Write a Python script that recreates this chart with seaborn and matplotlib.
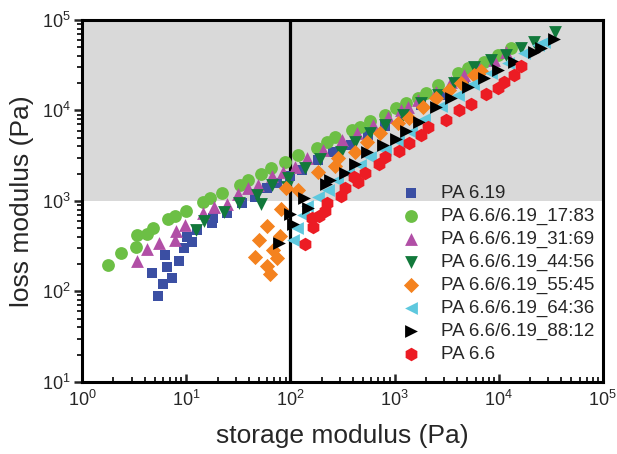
import matplotlib
matplotlib.use("Agg")
import matplotlib.pyplot as plt
import seaborn as sns
import numpy as np
import pandas as pd
from matplotlib.ticker import LogLocator, NullFormatter

# ---- data (storage modulus G', loss modulus G'' in Pa) ----
labels = ["PA 6.19", "PA 6.6/6.19_17:83", "PA 6.6/6.19_31:69", "PA 6.6/6.19_44:56",
          "PA 6.6/6.19_55:45", "PA 6.6/6.19_64:36", "PA 6.6/6.19_88:12", "PA 6.6"]

pa619_x = [5.38, 6.01, 4.71, 7.33, 6.57, 6.28, 8.57, 9.57, 10.2, 11.4, 12.8, 17.8, 18.2, 24.8,
           34.5, 46.1, 60.1, 75.0, 100, 130, 186, 259, 378, 562, 819, 1222, 1778, 2767, 4607]
pa619_y = [89.1, 121, 160, 141, 187, 253, 217, 302, 400, 352, 478, 571, 649, 736,
           950, 1107, 1392, 1581, 1888, 2201, 2837, 3474, 4158, 5358, 6742, 8923, 11500, 14830, 20140]

b1783_x = [1.77, 2.37, 3.30, 3.38, 4.22, 4.82, 6.71, 7.84, 10.0, 14.6, 17.0, 22.2, 33.0, 39.5,
           52.6, 65.7, 89.5, 119, 182, 227, 271, 395, 471, 588, 819, 1023, 1276, 1664, 1986,
           2588, 4033, 5035, 7174, 9776, 13040]
b1783_y = [196, 266, 310, 421, 432, 503, 632, 683, 776, 975, 1080, 1225, 1502, 1706,
           1987, 2316, 2699, 3224, 3852, 4487, 5095, 6090, 6573, 7660, 8923, 10660, 12110, 13750, 15610,
           19130, 25960, 29490, 34360, 41040, 49050]

b3169_x = [3.38, 4.22, 5.50, 7.84, 8.01, 9.78, 14.6, 18.6, 24.8, 31.6, 39.5, 49.2, 67.1, 85.6,
           112, 146, 208, 316, 441, 628, 857, 1142, 1334, 1664, 2479, 3454, 4607, 6425, 8955, 11670]
b3169_y = [217, 295, 344, 371, 467, 543, 736, 858, 926, 1195, 1392, 1502, 1888, 2090,
           2376, 2985, 3660, 4721, 5639, 6913, 8472, 10130, 10940, 13060, 16010, 20640, 24660, 29490, 36130, 44260]

b4456_x = [12.5, 14.9, 23.2, 32.3, 48.2, 52.6, 67.1, 95.7, 93.5, 139, 194, 303, 422, 588,
           819, 1194, 1778, 2588, 3690, 5754, 8375, 11670, 16280, 21710, 34530]
b4456_y = [478, 601, 755, 950, 1164, 926, 1502, 1795, 1429, 2316, 2911, 3474, 4487, 5639,
           6913, 8923, 12110, 14830, 20140, 30270, 36130, 41040, 49050, 57190, 73640]

b5545_x = [46.1, 50.3, 60.1, 60.1, 64.2, 68.7, 75.0, 80.1, 81.9, 91.6, 119, 186, 271, 289,
           422, 550, 733, 1069, 1364, 1858, 2479, 3305, 4311, 5754, 6714]
b5545_y = [240, 371, 530, 191, 156, 288, 234, 410, 816, 1392, 1324, 2090, 2436, 2985,
           3474, 4487, 5639, 7278, 8258, 10940, 13750, 16870, 20140, 24660, 27310]

b6436_x = [105, 117, 133, 146, 186, 232, 283, 361, 471, 588, 819, 1069, 1425, 1900,
           2767, 4033, 5623, 8375, 12210, 17380, 23710, 27080]
b6436_y = [371, 503, 700, 881, 1107, 1324, 1706, 2037, 2498, 3061, 3660, 4603, 5785, 8046,
           11220, 14830, 19640, 25960, 33480, 43150, 52940, 57190]

b8812_x = [78.4, 100, 105, 136, 149, 222, 242, 338, 422, 550, 767, 1023, 1276, 1702,
           2479, 3454, 5035, 7174, 9776, 13930, 21710, 25330, 33800]
b8812_y = [344, 718, 557, 1080, 837, 1541, 1706, 2037, 2564, 3474, 4158, 4845, 5929, 7464,
           10940, 13750, 18200, 22870, 28030, 34360, 44260, 49050, 61660]

pa66_x = [139, 166, 163, 190, 217, 227, 309, 338, 404, 451, 526, 702, 819, 1093, 1364,
          1778, 2075, 3090, 4121, 5383, 7499, 9776, 11170, 13930, 16280]
pa66_y = [335, 516, 649, 683, 776, 950, 1135, 1392, 1841, 1622, 2037, 2564, 3061, 3565, 4375,
          5358, 6573, 7852, 10130, 11800, 15210, 17740, 20640, 24660, 31050]

xs = [pa619_x, b1783_x, b3169_x, b4456_x, b5545_x, b6436_x, b8812_x, pa66_x]
ys = [pa619_y, b1783_y, b3169_y, b4456_y, b5545_y, b6436_y, b8812_y, pa66_y]

colors = ["#3b4fa3", "#6cbf45", "#b14fa6", "#12793b", "#f4821f", "#5ec8de", "#000000", "#ec1c24"]
markers = ["s", "o", "^", "v", "D", "<", ">", "h"]
sizes = [55, 85, 85, 85, 60, 85, 85, 95]

sns.set_theme(style="ticks")
plt.rcParams["font.family"] = ["Liberation Sans", "DejaVu Sans"]
plt.rcParams["mathtext.fontset"] = "custom"
plt.rcParams["mathtext.rm"] = "Liberation Sans"
plt.rcParams["mathtext.it"] = "Liberation Sans:italic"
plt.rcParams["mathtext.bf"] = "Liberation Sans:bold"

fig = plt.figure(figsize=(6.17, 4.54), dpi=100)
ax = fig.add_axes([0.133, 0.159, 0.844, 0.797])

ax.axhspan(1e3, 1e5, color="#d9d9d9", zorder=0, lw=0)
ax.axvline(100, color="black", lw=2.3, zorder=1)

for x, y, c, m, s, lab in zip(xs, ys, colors, markers, sizes, labels):
    df = pd.DataFrame({"G1": x, "G2": y})
    sns.scatterplot(data=df, x="G1", y="G2", ax=ax, color=c, marker=m, s=s,
                    linewidth=0, label=lab, zorder=3)

ax.set_xscale("log")
ax.set_yscale("log")
ax.set_xlim(1, 1e5)
ax.set_ylim(10, 1e5)
ax.xaxis.set_major_locator(LogLocator(base=10, numticks=10))
ax.yaxis.set_major_locator(LogLocator(base=10, numticks=10))
ax.xaxis.set_minor_locator(LogLocator(base=10, subs=np.arange(2, 10), numticks=20))
ax.yaxis.set_minor_locator(LogLocator(base=10, subs=np.arange(2, 10), numticks=20))
ax.xaxis.set_minor_formatter(NullFormatter())
ax.yaxis.set_minor_formatter(NullFormatter())

for sp in ax.spines.values():
    sp.set_linewidth(2.2)
    sp.set_color("black")
ax.tick_params(axis="x", which="major", direction="in", length=6, width=1.8, labelsize=13, pad=6)
ax.tick_params(axis="x", which="minor", direction="in", length=3.5, width=1.4)
ax.tick_params(axis="y", which="major", direction="out", length=6, width=1.8, labelsize=13, pad=2)
ax.tick_params(axis="y", which="minor", direction="out", length=3.5, width=1.4)
ax.tick_params(top=False, right=False, which="both")

ax.set_xlabel("storage modulus (Pa)", fontsize=19, labelpad=10)
ax.set_ylabel("loss modulus (Pa)", fontsize=19, labelpad=6)

leg = ax.legend(loc="lower right", bbox_to_anchor=(1.02, 0.0), frameon=False, fontsize=13.5,
                labelspacing=0.3, handletextpad=1.0, borderaxespad=0.62, handlelength=1.2)

fig.savefig("out.png", dpi=100)
